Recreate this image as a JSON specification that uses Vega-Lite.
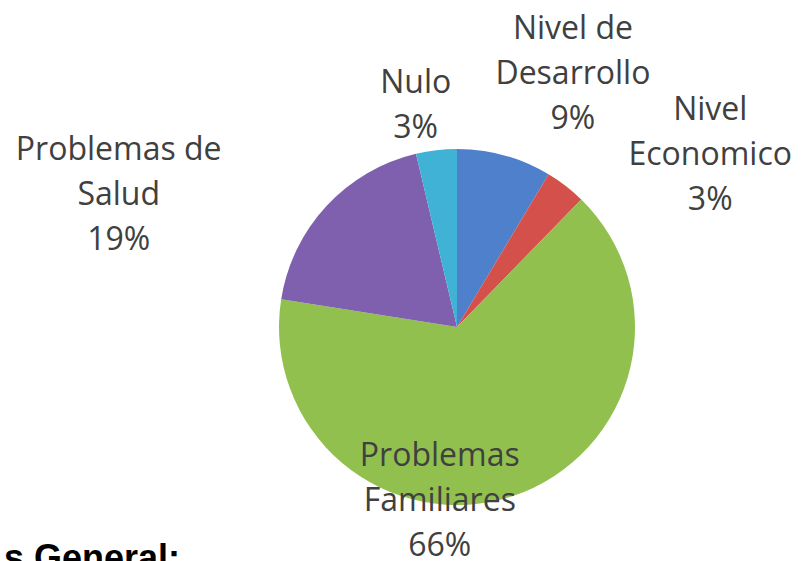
{
  "$schema": "https://vega.github.io/schema/vega-lite/v6.json",
  "width": 690,
  "height": 468,
  "autosize": {"type": "none"},
  "padding": {"left": 112, "top": 93, "right": 0, "bottom": 0},
  "background": "white",
  "title": {
    "text": "s General:",
    "orient": "bottom",
    "anchor": "start",
    "frame": "group",
    "font": "Liberation Sans",
    "fontSize": 36,
    "fontWeight": "bold",
    "color": "#000000",
    "dx": -108,
    "dy": -178,
    "offset": 0
  },
  "data": {
    "values": [
      {"idx": 1, "category": "Nivel de Desarrollo", "value": 8.6, "label": ["Nivel de", "Desarrollo", "9%"]},
      {"idx": 2, "category": "Nivel Economico", "value": 3.7, "label": ["Nivel", "Economico", "3%"]},
      {"idx": 3, "category": "Problemas Familiares", "value": 65.2, "label": ["Problemas", "Familiares", "66%"]},
      {"idx": 4, "category": "Problemas de Salud", "value": 18.8, "label": ["Problemas de", "Salud", "19%"]},
      {"idx": 5, "category": "Nulo", "value": 3.7, "label": ["Nulo", "3%"]}
    ]
  },
  "encoding": {
    "theta": {"field": "value", "type": "quantitative", "stack": true},
    "order": {"field": "idx", "type": "quantitative"}
  },
  "layer": [
    {
      "mark": {"type": "arc", "outerRadius": 178},
      "encoding": {
        "color": {
          "field": "category",
          "type": "nominal",
          "legend": null,
          "scale": {
            "domain": ["Nivel de Desarrollo", "Nivel Economico", "Problemas Familiares", "Problemas de Salud", "Nulo"],
            "range": ["#4f80cc", "#d4504a", "#92c04e", "#7f60ae", "#3fb2d6"]
          }
        }
      }
    },
    {
      "mark": {"type": "text", "radius": 277, "dx": 42, "dy": -31, "font": "Open Sans", "fontSize": 32, "lineHeight": 45, "color": "#404040", "align": "center", "baseline": "middle"},
      "encoding": {"text": {"condition": {"test": "datum.category !== 'Nivel de Desarrollo'", "value": ""}, "field": "label"}}
    },
    {
      "mark": {"type": "text", "radius": 292, "dx": 75, "dy": 14, "font": "Open Sans", "fontSize": 32, "lineHeight": 45, "color": "#404040", "align": "center", "baseline": "middle"},
      "encoding": {"text": {"condition": {"test": "datum.category !== 'Nivel Economico'", "value": ""}, "field": "label"}}
    },
    {
      "mark": {"type": "text", "radius": 158, "dx": -67, "dy": -21, "font": "Open Sans", "fontSize": 32, "lineHeight": 45, "color": "#404040", "align": "center", "baseline": "middle"},
      "encoding": {"text": {"condition": {"test": "datum.category !== 'Problemas Familiares'", "value": ""}, "field": "label"}}
    },
    {
      "mark": {"type": "text", "radius": 340, "dx": -89, "dy": 54, "font": "Open Sans", "fontSize": 32, "lineHeight": 45, "color": "#404040", "align": "center", "baseline": "middle"},
      "encoding": {"text": {"condition": {"test": "datum.category !== 'Problemas de Salud'", "value": ""}, "field": "label"}}
    },
    {
      "mark": {"type": "text", "radius": 227, "dx": -15, "dy": -19, "font": "Open Sans", "fontSize": 32, "lineHeight": 45, "color": "#404040", "align": "center", "baseline": "middle"},
      "encoding": {"text": {"condition": {"test": "datum.category !== 'Nulo'", "value": ""}, "field": "label"}}
    }
  ],
  "config": {"view": {"stroke": null}}
}
